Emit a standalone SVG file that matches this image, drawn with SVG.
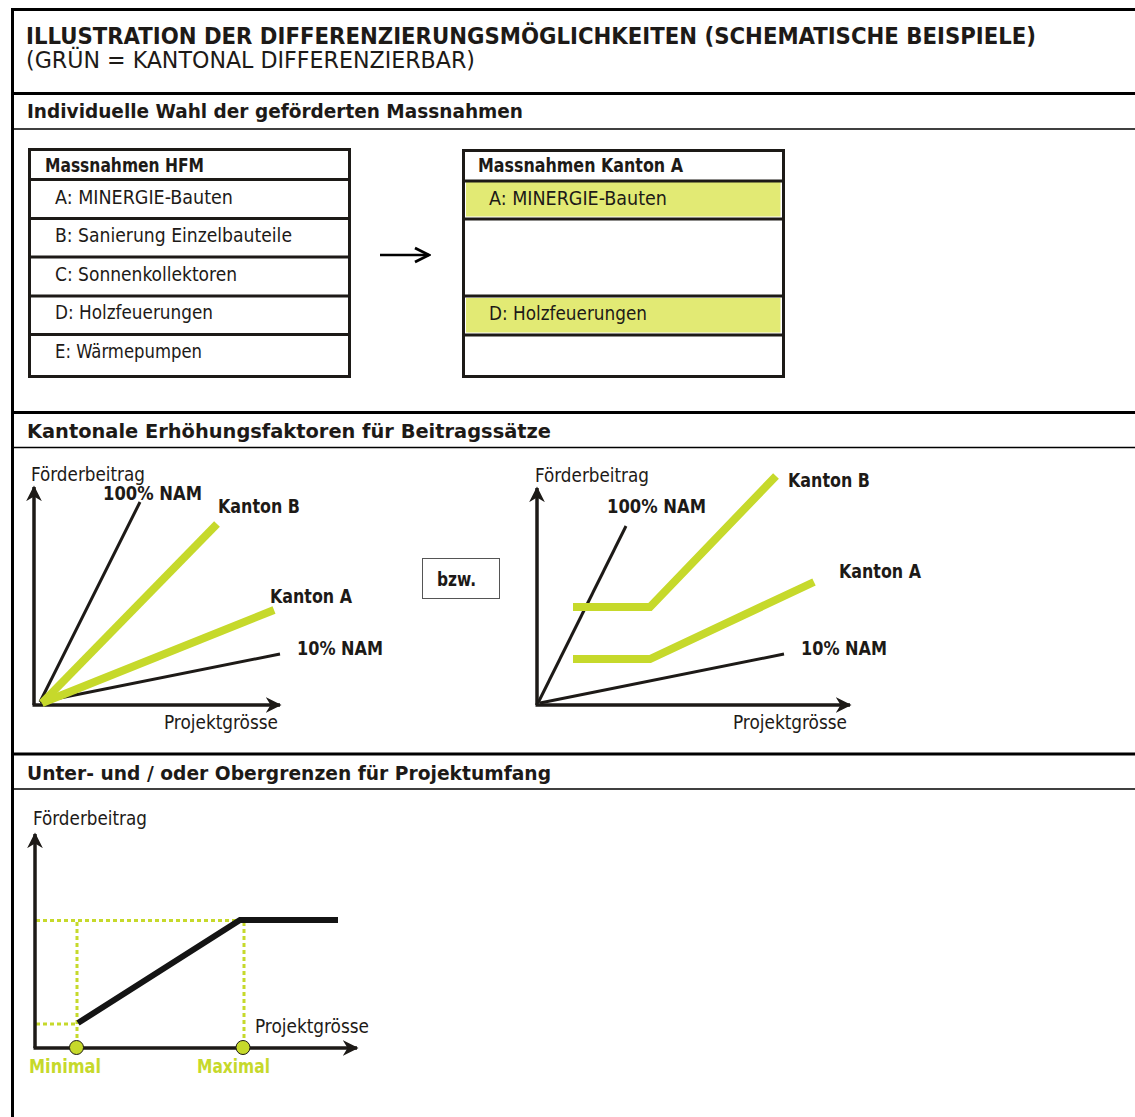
<svg xmlns="http://www.w3.org/2000/svg" width="1135" height="1117" viewBox="0 0 1135 1117">
<style>
text{font-family:"DejaVu Sans Condensed","Liberation Sans Narrow","Liberation Sans",sans-serif;fill:#1d1a17}
.b{font-weight:bold}
.t{font-size:23px}
.h{font-size:20px;font-weight:bold}
.i{font-size:19.5px}
.l{font-size:19.5px}
.lb{font-size:19.5px;font-weight:bold}
.g{fill:#c6d92b}
.frame{stroke:#000;stroke-width:3;fill:none}
.thin{stroke:#000;stroke-width:1.5;fill:none}
.box{fill:#fff;stroke:#1d1a17;stroke-width:3}
.div{stroke:#1d1a17;stroke-width:3}
.ax{stroke:#1d1a17;stroke-width:3.5;fill:none}
.blk{stroke:#1d1a17;stroke-width:3;fill:none}
.grn{stroke:#c6d92b;stroke-width:8;fill:none}
.dot{stroke:#c6d92b;stroke-width:3;stroke-dasharray:4 3;fill:none}
</style>
<defs>
<marker id="ah" viewBox="0 0 10 10" refX="9" refY="5" markerWidth="4.5" markerHeight="4.5" orient="auto" markerUnits="strokeWidth">
<path d="M0,0 L10,5 L0,10 L3,5 z" fill="#1d1a17"/>
</marker>
<marker id="ah2" viewBox="0 0 10 10" refX="9" refY="5" markerWidth="7" markerHeight="7" orient="auto" markerUnits="strokeWidth">
<path d="M1,1 L9,5 L1,9" fill="none" stroke="#000" stroke-width="1.6"/>
</marker>
</defs>
<rect width="1135" height="1117" fill="#fff"/>

<g id="frame">
<line class="frame" x1="12.5" y1="8" x2="12.5" y2="1117"/>
<line class="frame" x1="11" y1="9.5" x2="1135" y2="9.5"/>
<line class="frame" x1="11" y1="93.5" x2="1135" y2="93.5"/>
<line class="thin" x1="11" y1="129" x2="1135" y2="129"/>
<line class="frame" x1="11" y1="412.5" x2="1135" y2="412.5"/>
<line class="thin" x1="11" y1="447.5" x2="1135" y2="447.5"/>
<line class="frame" x1="11" y1="754" x2="1135" y2="754"/>
<line class="thin" x1="11" y1="789" x2="1135" y2="789"/>
</g>

<g id="title">
<text class="t b" x="26" y="44" textLength="1010" lengthAdjust="spacingAndGlyphs">ILLUSTRATION DER DIFFERENZIERUNGSMÖGLICHKEITEN (SCHEMATISCHE BEISPIELE)</text>
<text class="t" x="26" y="68" textLength="449" lengthAdjust="spacingAndGlyphs">(GRÜN = KANTONAL DIFFERENZIERBAR)</text>
</g>

<g id="section1-header"><text class="h" x="27" y="118" textLength="496" lengthAdjust="spacingAndGlyphs">Individuelle Wahl der geförderten Massnahmen</text></g>
<g id="section2-header"><text class="h" x="27" y="438" textLength="524" lengthAdjust="spacingAndGlyphs">Kantonale Erhöhungsfaktoren für Beitragssätze</text></g>
<g id="section3-header"><text class="h" x="27" y="780" textLength="524" lengthAdjust="spacingAndGlyphs">Unter- und / oder Obergrenzen für Projektumfang</text></g>

<g id="box-hfm">
<rect class="box" x="29.5" y="149.5" width="320" height="227"/>
<line class="div" x1="29" y1="179.5" x2="350" y2="179.5"/>
<line class="div" x1="29" y1="218.5" x2="350" y2="218.5"/>
<line class="div" x1="29" y1="257" x2="350" y2="257"/>
<line class="div" x1="29" y1="296" x2="350" y2="296"/>
<line class="div" x1="29" y1="334.5" x2="350" y2="334.5"/>
<text class="i b" x="45" y="172" textLength="159" lengthAdjust="spacingAndGlyphs">Massnahmen HFM</text>
<text class="i" x="55" y="204" textLength="178" lengthAdjust="spacingAndGlyphs">A: MINERGIE-Bauten</text>
<text class="i" x="55" y="242" textLength="237" lengthAdjust="spacingAndGlyphs">B: Sanierung Einzelbauteile</text>
<text class="i" x="55" y="281" textLength="182" lengthAdjust="spacingAndGlyphs">C: Sonnenkollektoren</text>
<text class="i" x="55" y="319" textLength="158" lengthAdjust="spacingAndGlyphs">D: Holzfeuerungen</text>
<text class="i" x="55" y="358" textLength="147" lengthAdjust="spacingAndGlyphs">E: Wärmepumpen</text>
</g>

<g id="box-kanton-a">
<rect class="box" x="463.5" y="150.5" width="320" height="226"/>
<rect x="466" y="182" width="314.5" height="34.5" fill="#e2ea74"/>
<rect x="466" y="298" width="314.5" height="34.5" fill="#e2ea74"/>
<line class="div" x1="463" y1="181" x2="784" y2="181"/>
<line class="div" x1="463" y1="219" x2="784" y2="219"/>
<line class="div" x1="463" y1="296" x2="784" y2="296"/>
<line class="div" x1="463" y1="335" x2="784" y2="335"/>
<text class="i b" x="478" y="172" textLength="205" lengthAdjust="spacingAndGlyphs">Massnahmen Kanton A</text>
<text class="i" x="489" y="205" textLength="178" lengthAdjust="spacingAndGlyphs">A: MINERGIE-Bauten</text>
<text class="i" x="489" y="320" textLength="158" lengthAdjust="spacingAndGlyphs">D: Holzfeuerungen</text>
</g>

<g id="connectors">
<line x1="380" y1="255" x2="429" y2="255" stroke="#000" stroke-width="2.5" marker-end="url(#ah2)"/>
</g>

<g id="chart1">
<line class="ax" x1="34" y1="705" x2="34" y2="487" marker-end="url(#ah)"/>
<line class="ax" x1="32.5" y1="705" x2="280" y2="705" marker-end="url(#ah)"/>
<line class="blk" x1="40" y1="702" x2="140" y2="502"/>
<line class="blk" x1="40" y1="702" x2="280" y2="654"/>
<line class="grn" x1="42" y1="703" x2="274" y2="610"/>
<line class="grn" x1="42" y1="703" x2="217" y2="524"/>
<text class="l" x="31" y="481" textLength="114" lengthAdjust="spacingAndGlyphs">Förderbeitrag</text>
<text class="lb" x="103" y="500" textLength="99" lengthAdjust="spacingAndGlyphs">100% NAM</text>
<text class="lb" x="218" y="513" textLength="82" lengthAdjust="spacingAndGlyphs">Kanton B</text>
<text class="lb" x="270" y="603" textLength="82" lengthAdjust="spacingAndGlyphs">Kanton A</text>
<text class="lb" x="297" y="655" textLength="86" lengthAdjust="spacingAndGlyphs">10% NAM</text>
<text class="l" x="164" y="729" textLength="114" lengthAdjust="spacingAndGlyphs">Projektgrösse</text>
</g>

<g id="bzw">
<rect x="422.5" y="558.5" width="77" height="40" fill="#fff" stroke="#555" stroke-width="1"/>
<text class="lb" x="437" y="586" textLength="39" lengthAdjust="spacingAndGlyphs">bzw.</text>
</g>

<g id="chart2">
<line class="ax" x1="537" y1="705" x2="537" y2="488" marker-end="url(#ah)"/>
<line class="ax" x1="535.5" y1="705" x2="850" y2="705" marker-end="url(#ah)"/>
<line class="blk" x1="538" y1="703" x2="626" y2="526"/>
<line class="blk" x1="540" y1="703" x2="784" y2="654"/>
<polyline class="grn" points="573,607 650,607 776,476"/>
<polyline class="grn" points="573,659 650,659 814,582"/>
<text class="l" x="535" y="482" textLength="114" lengthAdjust="spacingAndGlyphs">Förderbeitrag</text>
<text class="lb" x="607" y="513" textLength="99" lengthAdjust="spacingAndGlyphs">100% NAM</text>
<text class="lb" x="788" y="487" textLength="82" lengthAdjust="spacingAndGlyphs">Kanton B</text>
<text class="lb" x="839" y="578" textLength="82" lengthAdjust="spacingAndGlyphs">Kanton A</text>
<text class="lb" x="801" y="655" textLength="86" lengthAdjust="spacingAndGlyphs">10% NAM</text>
<text class="l" x="733" y="729" textLength="114" lengthAdjust="spacingAndGlyphs">Projektgrösse</text>
</g>

<g id="chart3">
<line class="dot" x1="36" y1="920.5" x2="240" y2="920.5"/>
<line class="dot" x1="36" y1="1024" x2="77" y2="1024"/>
<line class="dot" x1="77" y1="922" x2="77" y2="1046"/>
<line class="dot" x1="244" y1="922" x2="244" y2="1046"/>
<line class="ax" x1="35" y1="1048" x2="35" y2="834" marker-end="url(#ah)"/>
<line class="ax" x1="33.5" y1="1048" x2="357" y2="1048" marker-end="url(#ah)"/>
<polyline points="78,1023 240,920 338,920" fill="none" stroke="#141414" stroke-width="6"/>
<circle cx="76.5" cy="1047.5" r="7" fill="#c6d92b" stroke="#1d1a17" stroke-width="1"/>
<circle cx="243" cy="1047.5" r="7" fill="#c6d92b" stroke="#1d1a17" stroke-width="1"/>
<text class="l" x="33" y="825" textLength="114" lengthAdjust="spacingAndGlyphs">Förderbeitrag</text>
<text class="l" x="255" y="1033" textLength="114" lengthAdjust="spacingAndGlyphs">Projektgrösse</text>
<text class="lb g" x="29" y="1073" textLength="72" lengthAdjust="spacingAndGlyphs">Minimal</text>
<text class="lb g" x="197" y="1073" textLength="73" lengthAdjust="spacingAndGlyphs">Maximal</text>
</g>
</svg>
